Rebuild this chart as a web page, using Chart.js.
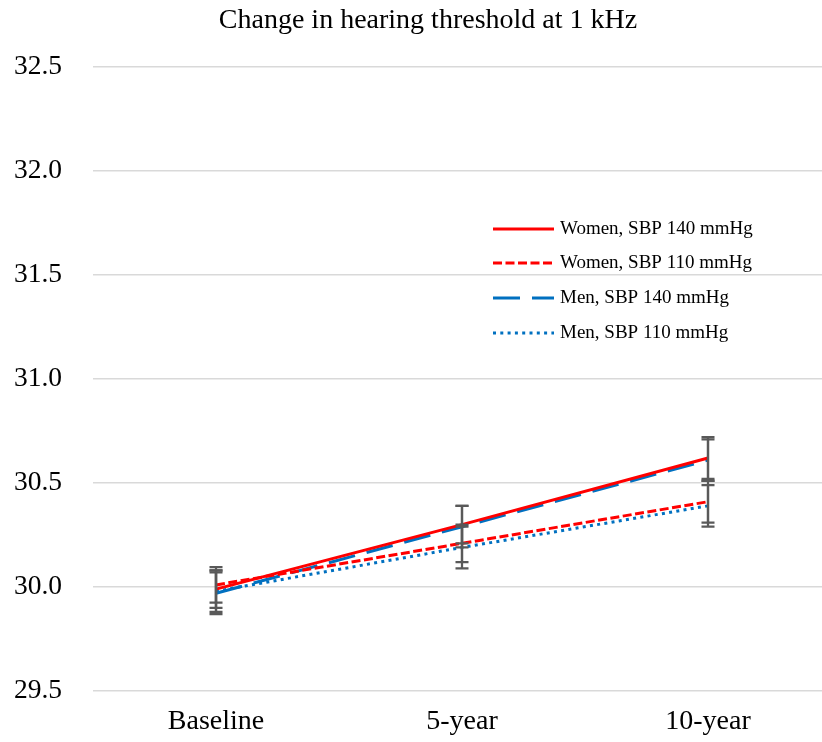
<!DOCTYPE html>
<html>
<head>
<meta charset="utf-8">
<script src="https://cdn.jsdelivr.net/npm/chart.js@4/dist/chart.umd.min.js"></script>
<style>
  html, body { margin: 0; padding: 0; background: #fff; overflow: hidden; }
  #wrap { width: 856px; height: 742px; }
</style>
</head>
<body>
<div id="wrap"><canvas id="c" width="856" height="742"></canvas></div>
<script>
// ---- data ----
const titleText = 'Change in hearing threshold at 1 kHz';
const labels = ['Baseline', '5-year', '10-year'];
const seriesNames = ['Women, SBP 140 mmHg', 'Women, SBP 110 mmHg', 'Men, SBP 140 mmHg', 'Men, SBP 110 mmHg'];
const women140 = [29.99, 30.30, 30.62];
const women110 = [30.01, 30.21, 30.41];
const men140   = [29.97, 30.29, 30.61];
const men110   = [29.98, 30.19, 30.39];
const women140Err = [0.09, 0.09, 0.10];
const women110Err = [0.085, 0.09, 0.10];
const men140Err   = [0.10, 0.10, 0.10];
const men110Err   = [0.10, 0.10, 0.10];
const yTicks = [29.5, 30.0, 30.5, 31.0, 31.5, 32.0, 32.5];

const FONT = '"Liberation Serif", "Times New Roman", serif';
const RED = '#FF0000', BLUE = '#0070C0';

const errorBars = {
  id: 'errorBars',
  afterDatasetsDraw(chart) {
    const ctx = chart.ctx, xs = chart.scales.x, ys = chart.scales.y;
    ctx.save();
    ctx.strokeStyle = '#595959';
    ctx.lineWidth = 2.25;
    ctx.setLineDash([]);
    chart.data.datasets.forEach(ds => {
      ds.data.forEach((v, j) => {
        const e = ds.err[j];
        const x = xs.getPixelForValue(j);
        const yt = ys.getPixelForValue(v + e);
        const yb = ys.getPixelForValue(v - e);
        ctx.beginPath();
        ctx.moveTo(x, yt); ctx.lineTo(x, yb);
        ctx.moveTo(x - 6.5, yt); ctx.lineTo(x + 6.5, yt);
        ctx.moveTo(x - 6.5, yb); ctx.lineTo(x + 6.5, yb);
        ctx.stroke();
      });
    });
    ctx.restore();
  }
};

const customLegendAndTitle = {
  id: 'customLegendAndTitle',
  afterDraw(chart) {
    const ctx = chart.ctx;
    ctx.save();
    ctx.fillStyle = '#000';
    ctx.font = '28px ' + FONT;
    ctx.textAlign = 'center';
    ctx.textBaseline = 'middle';
    ctx.fillText(titleText, 428, 21);

    const rows = [229, 263, 298, 333];
    chart.data.datasets.forEach((ds, i) => {
      const y = rows[i];
      ctx.strokeStyle = ds.borderColor;
      ctx.lineWidth = ds.borderWidth;
      ctx.setLineDash(ds.borderDash || []);
      ctx.lineCap = 'butt';
      ctx.beginPath();
      ctx.moveTo(493, y); ctx.lineTo(554, y);
      ctx.stroke();
      ctx.setLineDash([]);
      ctx.fillStyle = '#000';
      ctx.font = '19px ' + FONT;
      ctx.textBaseline = 'middle';
      ctx.textAlign = 'left';
      ctx.fillText(ds.label, 560, y);
    });
    ctx.restore();
  }
};

new Chart(document.getElementById('c'), {
  type: 'line',
  data: {
    labels: labels,
    datasets: [
      { label: seriesNames[0], data: women140, err: women140Err, borderColor: RED, borderWidth: 3, borderDash: [] },
      { label: seriesNames[1], data: women110, err: women110Err, borderColor: RED, borderWidth: 3, borderDash: [9, 3.5] },
      { label: seriesNames[2], data: men140, err: men140Err, borderColor: BLUE, borderWidth: 3, borderDash: [27, 12] },
      { label: seriesNames[3], data: men110, err: men110Err, borderColor: BLUE, borderWidth: 3, borderDash: [3, 4.3] }
    ]
  },
  options: {
    responsive: false,
    animation: false,
    devicePixelRatio: 1,
    elements: { point: { radius: 0, hoverRadius: 0 }, line: { tension: 0, fill: false } },
    layout: { padding: { left: 0, right: 25, top: 67, bottom: 0 } },
    plugins: {
      legend: { display: false },
      tooltip: { enabled: false },
      title: { display: false }
    },
    scales: {
      x: {
        type: 'category',
        offset: true,
        grid: { display: false, drawTicks: false },
        border: { display: false },
        ticks: { color: '#000', font: { family: FONT, size: 28 }, padding: 14, maxRotation: 0 },
        afterFit(s) { s.height = 51; }
      },
      y: {
        min: 29.5,
        max: 32.5,
        afterBuildTicks(s) { s.ticks = yTicks.map(v => ({ value: v })); },
        grid: { color: '#D9D9D9', lineWidth: 1.5, drawTicks: false },
        border: { display: false },
        ticks: { color: '#000', font: { family: FONT, size: 27.5 }, padding: 31, callback: v => Number(v).toFixed(1) },
        afterFit(s) { s.width = 93; }
      }
    }
  },
  plugins: [errorBars, customLegendAndTitle]
});
</script>
</body>
</html>
